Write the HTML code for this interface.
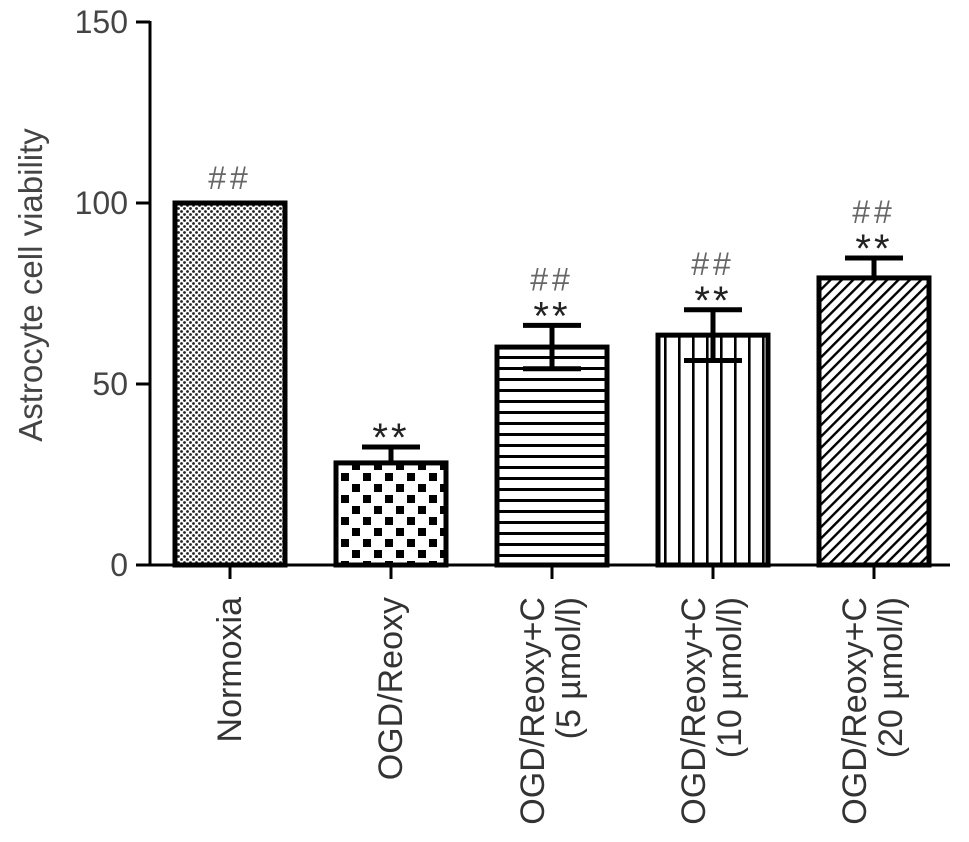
<!DOCTYPE html>
<html><head><meta charset="utf-8"><style>
html,body{margin:0;padding:0;background:#fff;}
svg{display:block;font-family:"Liberation Sans",Arial,sans-serif;}
</style></head><body>
<svg id="chart" width="969" height="842" viewBox="0 0 969 842" xmlns="http://www.w3.org/2000/svg">
<defs>
<pattern id="p0" width="6" height="6" patternUnits="userSpaceOnUse"><rect width="6" height="6" fill="#fff"/><circle cx="1.5" cy="1.5" r="1.4" fill="#222"/><circle cx="4.5" cy="4.5" r="1.4" fill="#222"/></pattern>
<pattern id="p1" width="22" height="22" patternUnits="userSpaceOnUse"><rect width="22" height="22" fill="#fff"/><rect x="0" y="0" width="8" height="8" fill="#000"/><rect x="11" y="11" width="8" height="8" fill="#000"/></pattern>
<pattern id="p2" width="10" height="11" patternUnits="userSpaceOnUse"><rect width="10" height="11" fill="#fff"/><rect y="4" width="10" height="3" fill="#000"/></pattern>
<pattern id="p3" width="14" height="10" patternUnits="userSpaceOnUse"><rect width="14" height="10" fill="#fff"/><rect x="6" width="2.6" height="10" fill="#000"/></pattern>
<pattern id="p4" width="8" height="8" patternUnits="userSpaceOnUse" patternTransform="rotate(45)"><rect width="8" height="8" fill="#fff"/><rect width="2.4" height="8" fill="#000"/></pattern>
</defs>
<g id="plot"></g>
</svg>
<script>
const categories = ["Normoxia","OGD/Reoxy","OGD/Reoxy+C|(5 µmol/l)","OGD/Reoxy+C|(10 µmol/l)","OGD/Reoxy+C|(20 µmol/l)"];
const values = [100, 28.2, 60.2, 63.5, 79.3];
const errors = [0, 4.4, 6, 7, 5.5];
const hashMarks = ["##", "", "##", "##", "##"];
const starMarks = ["", "**", "**", "**", "**"];
const yTicks = [0, 50, 100, 150];
const patterns = ["p0","p1","p2","p3","p4"];

const NS = "http://www.w3.org/2000/svg";
const g = document.getElementById('plot');
const y0 = 565, pxPer = 3.62;
const yScale = v => y0 - v * pxPer;
const xCenter = i => 230 + i * 161;
const barW = 110;
function mk(tag, attrs, parent){ const e=document.createElementNS(NS,tag); for(const k in attrs) e.setAttribute(k,attrs[k]); (parent||g).appendChild(e); return e; }

let a = mk('line',{x1:150,y1:yScale(150)-1,x2:150,y2:y0+1,stroke:'#000','stroke-width':3});


a = mk('line',{x1:149,y1:y0,x2:950,y2:y0,stroke:'#000','stroke-width':3});



yTicks.forEach(t=>{
  const y=yScale(t);
  const l=mk('line',{x1:136,y1:y,x2:150,y2:y,stroke:'#000','stroke-width':3});
  
  
  const tx=mk('text',{x:128,y:y+11,'text-anchor':'end','font-size':32,fill:'#444'});
  tx.textContent=t;
  
  
});
const yt = mk('text',{x:0,y:0,transform:'translate(42,285) rotate(-90)','text-anchor':'middle','font-size':33,fill:'#444'});
yt.textContent='Astrocyte cell viability';



categories.forEach((c,i)=>{
  const cx=xCenter(i), top=yScale(values[i]);
  const r=mk('rect',{x:cx-barW/2,y:top,width:barW,height:y0-top,fill:'url(#'+patterns[i]+')',stroke:'#000','stroke-width':5});
  
  
  if(errors[i]>0){
    const et=yScale(values[i]+errors[i]), eb=yScale(values[i]-errors[i]);
    const eg=mk('g',{stroke:'#000','stroke-width':5});
    
    
    mk('line',{x1:cx,y1:et,x2:cx,y2:(i===2||i===3)?eb:top},eg);
    mk('line',{x1:cx-29,y1:et,x2:cx+29,y2:et},eg);
    if(i===2||i===3) mk('line',{x1:cx-29,y1:eb,x2:cx+29,y2:eb},eg);
  }
  const topAnn = yScale(values[i]+errors[i]);
  if(starMarks[i]){
    const s=mk('text',{x:cx,y:topAnn+4,'text-anchor':'middle','font-size':40,fill:'#222','letter-spacing':3});
    s.textContent=starMarks[i];
    
    
  }
  if(hashMarks[i]){
    const hy = starMarks[i] ? topAnn-35 : topAnn-14;
    const h=mk('text',{x:cx,y:hy,'text-anchor':'middle','font-size':32,fill:'#666','letter-spacing':4});
    h.textContent=hashMarks[i];
    
    
  }
  const tk=mk('line',{x1:cx,y1:y0,x2:cx,y2:y0+14,stroke:'#000','stroke-width':3});
  
  
  const lines=c.split('|');
  lines.forEach((ln,j)=>{
    const off = lines.length===1 ? 11 : (j===0 ? -8 : 28);
    const t=mk('text',{x:0,y:0,transform:'translate('+(cx+off)+',597) rotate(-90)','text-anchor':'end','font-size':34,fill:'#333'});
    t.textContent=ln;
    
    
  });
});
</script>
</body></html>
